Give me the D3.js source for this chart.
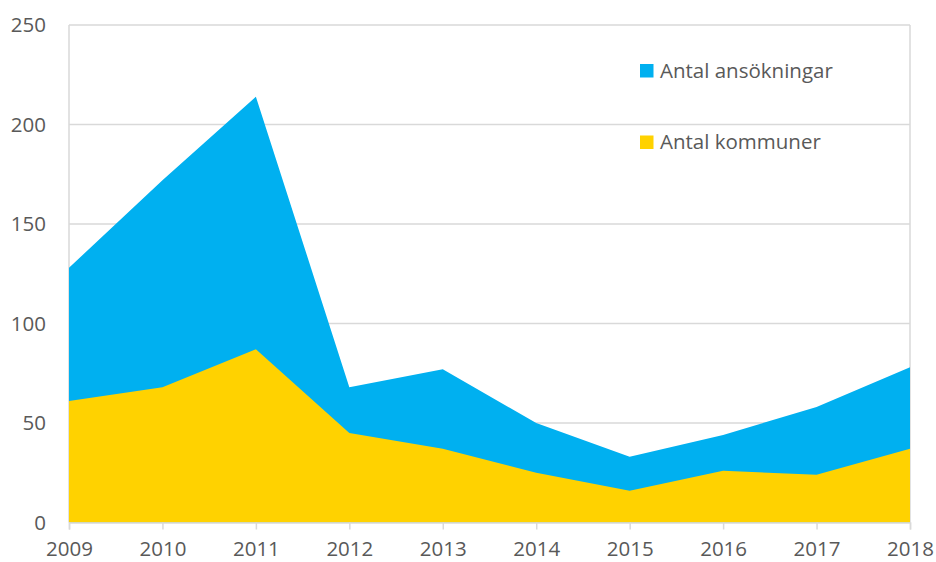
<!DOCTYPE html>
<html>
<head>
<meta charset="utf-8">
<script src="https://cdn.jsdelivr.net/npm/d3@7"></script>
<style>
  body { margin: 0; background: #fff; }
  text { font-family: "Open Sans", sans-serif; }
</style>
</head>
<body>
<div class="chart"></div>
<script>
const years = [2009, 2010, 2011, 2012, 2013, 2014, 2015, 2016, 2017, 2018];
const ansokningar = [128, 172, 214, 68, 77, 50, 33, 44, 58, 78];
const kommuner = [61, 68, 87, 45, 37, 25, 16, 26, 24, 37];
const yTicks = [0, 50, 100, 150, 200, 250];
const seriesNames = ['Antal ansökningar', 'Antal kommuner'];

const colors = ['#00B0F0', '#FFD200'];

const margin = { left: 69, right: 26, top: 25, bottom: 39.5 };
const chartWidth = 936;
const chartHeight = 562;
const width = chartWidth - margin.left - margin.right;
const height = chartHeight - margin.top - margin.bottom;

const svg = d3.select('.chart')
  .append('svg')
  .attr('width', chartWidth)
  .attr('height', chartHeight)
  .append('g')
  .attr('transform', `translate(${margin.left}, ${margin.top})`);

const xScale = d3.scalePoint()
  .domain(years)
  .range([0, width]);

const yScale = d3.scaleLinear()
  .domain([0, 250])
  .range([height, 0]);

// gridlines
svg.append('g')
  .selectAll('line')
  .data(yTicks.filter(d => d > 0))
  .enter()
  .append('line')
  .attr('x1', 0)
  .attr('x2', width)
  .attr('y1', d => yScale(d))
  .attr('y2', d => yScale(d))
  .attr('stroke', '#d9d9d9')
  .attr('stroke-width', 1.5);

// left + right border lines
svg.append('line')
  .attr('x1', 0).attr('x2', 0)
  .attr('y1', 0).attr('y2', height)
  .attr('stroke', '#d9d9d9').attr('stroke-width', 1.5);
svg.append('line')
  .attr('x1', width).attr('x2', width)
  .attr('y1', 0).attr('y2', height)
  .attr('stroke', '#d9d9d9').attr('stroke-width', 1.5);

const area = d3.area()
  .x((d, i) => xScale(years[i]))
  .y0(yScale(0))
  .y1(d => yScale(d));

svg.append('path')
  .datum(ansokningar)
  .attr('d', area)
  .attr('fill', colors[0]);

svg.append('path')
  .datum(kommuner)
  .attr('d', area)
  .attr('fill', colors[1]);

// x axis
const xAxis = d3.axisBottom(xScale).tickSize(7).tickPadding(12);
const gx = svg.append('g')
  .attr('transform', `translate(0, ${height})`)
  .call(xAxis);
gx.select('.domain').attr('stroke', '#d9d9d9').attr('stroke-width', 1.5);
gx.selectAll('.tick line').attr('stroke', '#d9d9d9').attr('stroke-width', 1.5);
gx.selectAll('text')
  .attr('font-size', '20.5px')
  .attr('font-family', '"Open Sans", sans-serif')
  .attr('fill', '#595959');

// y axis
const yAxis = d3.axisLeft(yScale).tickValues(yTicks).tickSize(0).tickPadding(23);
const gy = svg.append('g').call(yAxis);
gy.select('.domain').remove();
gy.selectAll('text')
  .attr('font-size', '20.5px')
  .attr('font-family', '"Open Sans", sans-serif')
  .attr('fill', '#595959');

// legend
const legend = svg.append('g')
  .attr('transform', `translate(${640 - margin.left}, ${64 - margin.top})`);
const items = legend.selectAll('g')
  .data(seriesNames)
  .enter()
  .append('g')
  .attr('transform', (d, i) => `translate(0, ${i * 71.5})`);
items.append('rect')
  .attr('width', 13.5)
  .attr('height', 13.5)
  .attr('fill', (d, i) => colors[i]);
items.append('text')
  .attr('x', 20)
  .attr('y', 7)
  .attr('dy', '0.32em')
  .attr('font-size', '20.5px')
  .attr('fill', '#595959')
  .text(d => d);
</script>
</body>
</html>
